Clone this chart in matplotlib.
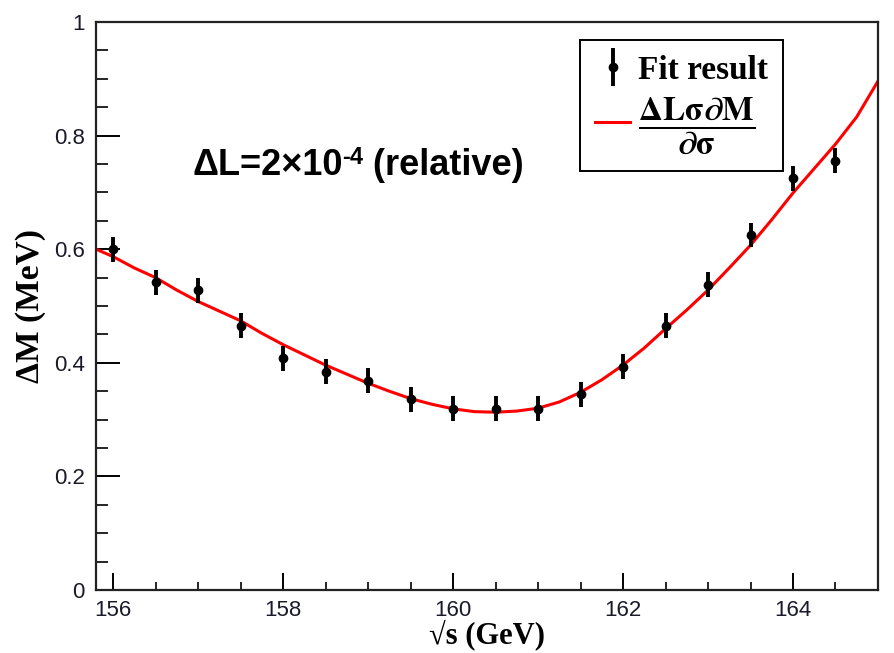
import matplotlib
matplotlib.use("Agg")
import matplotlib.pyplot as plt
from matplotlib.ticker import MultipleLocator
from matplotlib.legend_handler import HandlerErrorbar

# Data
sqrt_s = [156.0, 156.5, 157.0, 157.5, 158.0, 158.5, 159.0, 159.5, 160.0,
          160.5, 161.0, 161.5, 162.0, 162.5, 163.0, 163.5, 164.0, 164.5]
dM_fit = [0.600, 0.542, 0.528, 0.465, 0.408, 0.384, 0.368, 0.336, 0.319,
          0.319, 0.319, 0.345, 0.393, 0.465, 0.537, 0.625, 0.725, 0.756]
dM_err = [0.022] * len(sqrt_s)

curve_x = [155.8, 156.0, 156.25, 156.5, 156.75, 157.0, 157.25, 157.5, 157.75,
           158.0, 158.25, 158.5, 158.75, 159.0, 159.25, 159.5, 159.75, 160.0,
           160.25, 160.5, 160.75, 161.0, 161.25, 161.5, 161.75, 162.0, 162.25,
           162.5, 162.75, 163.0, 163.25, 163.5, 163.75, 164.0, 164.25, 164.5,
           164.75, 165.0]
curve_y = [0.600, 0.587, 0.567, 0.550, 0.528, 0.508, 0.491, 0.474, 0.452,
           0.432, 0.414, 0.396, 0.380, 0.364, 0.350, 0.337, 0.327, 0.319,
           0.314, 0.313, 0.315, 0.320, 0.331, 0.348, 0.370, 0.396, 0.426,
           0.460, 0.493, 0.528, 0.567, 0.607, 0.652, 0.699, 0.742, 0.785,
           0.833, 0.896]

xticks = [156, 158, 160, 162, 164]
yticks = [0, 0.2, 0.4, 0.6, 0.8, 1]
ytick_labels = ["0", "0.2", "0.4", "0.6", "0.8", "1"]

plt.rcParams['mathtext.fontset'] = 'stix'

fig = plt.figure(figsize=(8.95, 6.53), dpi=100)
ax = fig.add_axes([0.1073, 0.0965, 0.8737, 0.8698])

line, = ax.plot(curve_x, curve_y, color='red', lw=2.2, zorder=2)
eb = ax.errorbar(sqrt_s, dM_fit, yerr=dM_err, fmt='o', color='black',
                 ms=6, elinewidth=2.8, capsize=0, zorder=3)

ax.set_xlim(155.8, 165.0)
ax.set_ylim(0, 1)
ax.set_xticks(xticks)
ax.set_xticklabels([str(t) for t in xticks])
ax.set_yticks(yticks)
ax.set_yticklabels(ytick_labels)
ax.xaxis.set_minor_locator(MultipleLocator(0.5))
ax.yaxis.set_minor_locator(MultipleLocator(0.05))
ax.tick_params(axis='both', which='both', direction='in', top=False, right=False)
ax.tick_params(axis='x', which='major', length=12, width=1.4, pad=7)
ax.tick_params(axis='x', which='minor', length=6, width=1.2)
ax.tick_params(axis='y', which='major', length=17, width=1.4, pad=8)
ax.tick_params(axis='y', which='minor', length=8.5, width=1.2)
for lab in ax.get_xticklabels() + ax.get_yticklabels():
    lab.set_fontfamily('Liberation Sans')
    lab.set_fontsize(16)
    lab.set_color('#1a1a2a')
for sp in ax.spines.values():
    sp.set_linewidth(1.6)
    sp.set_color('#222222')

ax.set_ylabel('ΔM (MeV)', fontfamily='Liberation Serif', fontweight='bold',
              fontsize=24)
ax.yaxis.set_label_coords(-0.064, 0.5)
ax.set_xlabel('√s (GeV)', fontfamily='Liberation Serif', fontweight='bold',
              fontsize=22)
ax.xaxis.set_label_coords(0.5, -0.052)

t1 = ax.text(0.124, 0.731, 'ΔL=2×10', transform=ax.transAxes,
             fontfamily='Liberation Sans', fontweight='bold', fontsize=26,
             ha='left', va='baseline')
t2 = ax.annotate('-4', xy=(1, 1), xycoords=t1, xytext=(-1, 1),
                 textcoords='offset points', ha='left', va='top',
                 fontfamily='Liberation Sans', fontweight='bold', fontsize=17)
t3 = ax.annotate(' (relative)', xy=(1, 0), xycoords=(t2, t1),
                 ha='left', va='bottom',
                 fontfamily='Liberation Sans', fontweight='bold', fontsize=26)

leg = ax.legend([eb, line],
                ['Fit result',
                 r'$\dfrac{\mathbf{\Delta L\sigma\partial M}}{\mathbf{\partial\sigma}}$'],
                loc='upper left', bbox_to_anchor=(0.619, 0.969),
                prop={'family': 'Liberation Serif', 'weight': 'bold', 'size': 24},
                frameon=True, fancybox=False, framealpha=1, edgecolor='black',
                handlelength=1.05, handletextpad=0.25, borderpad=0.45,
                labelspacing=0.3, borderaxespad=0,
                handler_map={type(eb): HandlerErrorbar(xerr_size=0, yerr_size=0.58)})
leg.get_frame().set_linewidth(1.4)

fig.savefig('out.png', dpi=100)
